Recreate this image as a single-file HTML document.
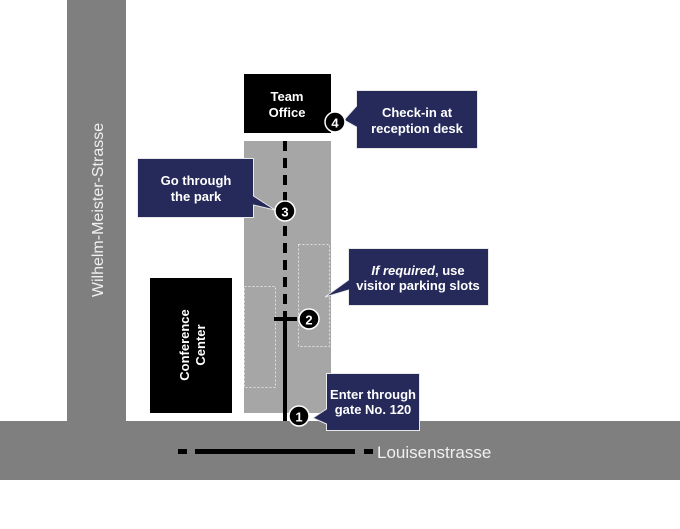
<!DOCTYPE html>
<html><head><meta charset="utf-8"><style>
html,body{margin:0;padding:0;background:#fff;}
svg{display:block;}
text{font-family:"Liberation Sans",Arial,sans-serif;}
.b{font-weight:bold;fill:#fff;font-size:13px;}
</style></head><body>
<svg width="680" height="529" viewBox="0 0 680 529" xmlns="http://www.w3.org/2000/svg">
<rect x="0" y="0" width="680" height="529" fill="#fff"/>
<rect x="67" y="0" width="59" height="425" fill="#7f7f7f"/>
<rect x="0" y="421" width="680" height="59" fill="#7f7f7f"/>
<text x="0" y="0" transform="translate(103,210) rotate(-90)" text-anchor="middle" fill="#f0f0f0" font-size="16">Wilhelm-Meister-Strasse</text>
<rect x="178" y="449" width="9" height="5" fill="#000"/>
<rect x="195" y="449" width="160" height="5" fill="#000"/>
<rect x="364" y="449" width="9" height="5" fill="#000"/>
<text x="377" y="458" fill="#f0f0f0" font-size="17">Louisenstrasse</text>
<rect x="244" y="141" width="87" height="272" fill="#a6a6a6"/>
<rect x="298.5" y="244.5" width="31" height="102" fill="none" stroke="#e0e0e0" stroke-dasharray="2,2"/>
<rect x="244.5" y="286.5" width="31" height="101" fill="none" stroke="#e0e0e0" stroke-dasharray="2,2"/>
<rect x="244" y="74" width="87" height="59" fill="#000"/>
<text x="287" y="101" text-anchor="middle" class="b">Team</text>
<text x="287" y="117" text-anchor="middle" class="b">Office</text>
<rect x="150" y="278" width="82" height="135" fill="#000"/>
<text transform="translate(189,345) rotate(-90)" text-anchor="middle" class="b">Conference</text>
<text transform="translate(205,345) rotate(-90)" text-anchor="middle" class="b">Center</text>
<line x1="285" y1="141" x2="285" y2="311" stroke="#000" stroke-width="4" stroke-dasharray="10,7"/>
<line x1="285" y1="311" x2="285" y2="421" stroke="#000" stroke-width="4"/>
<line x1="274" y1="319" x2="297" y2="319" stroke="#000" stroke-width="4"/>
<g fill="#262a5a" stroke="#e8e8e8" stroke-width="1">
<polygon points="356.5,90.5 477.5,90.5 477.5,148.5 356.5,148.5 356.5,127 344,120 356.5,106"/>
<polygon points="137.5,158.5 253.5,158.5 253.5,196 275,210 253.5,205 253.5,217.5 137.5,217.5"/>
<polygon points="348.5,248.5 488.5,248.5 488.5,305.5 348.5,305.5 348.5,290 325,297 348.5,280"/>
<polygon points="326.5,373.5 419.5,373.5 419.5,430.5 326.5,430.5 326.5,424 313,418 326.5,409"/>
</g>
<text x="417" y="117" text-anchor="middle" class="b">Check-in at</text>
<text x="417" y="133" text-anchor="middle" class="b">reception desk</text>
<text x="196" y="185" text-anchor="middle" class="b">Go through</text>
<text x="196" y="201" text-anchor="middle" class="b">the park</text>
<text x="418" y="275" text-anchor="middle" class="b"><tspan font-style="italic">If required</tspan>, use</text>
<text x="418" y="290" text-anchor="middle" class="b">visitor parking slots</text>
<text x="373" y="399" text-anchor="middle" class="b">Enter through</text>
<text x="373" y="414" text-anchor="middle" class="b">gate No. 120</text>
<g stroke="#fff" stroke-width="1.5" fill="#000">
<circle cx="335" cy="122" r="10"/>
<circle cx="285" cy="211" r="10"/>
<circle cx="309" cy="319" r="10"/>
<circle cx="299" cy="416" r="10"/>
</g>
<text x="335" y="127.5" text-anchor="middle" class="b" font-size="15">4</text>
<text x="285" y="216.5" text-anchor="middle" class="b" font-size="15">3</text>
<text x="309" y="324.5" text-anchor="middle" class="b" font-size="15">2</text>
<text x="299" y="421.5" text-anchor="middle" class="b" font-size="15">1</text>
</svg>
</body></html>
